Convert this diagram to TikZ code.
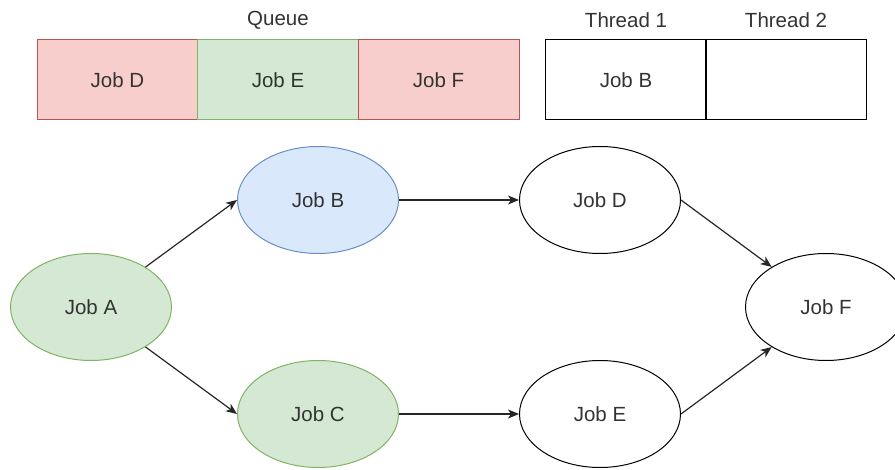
\documentclass[tikz,border=0pt]{standalone}
\usepackage{fontspec}
\setmainfont{Liberation Sans}
\usetikzlibrary{arrows.meta,shapes.geometric}

\definecolor{redfill}{HTML}{F8CECC}
\definecolor{redline}{HTML}{B85450}
\definecolor{greenfill}{HTML}{D5E8D4}
\definecolor{greenline}{HTML}{82B366}
\definecolor{bluefill}{HTML}{DAE8FC}
\definecolor{blueline}{HTML}{6C8EBF}
\definecolor{txt}{HTML}{333333}

\tikzset{
  every node/.style={font=\fontsize{20.5}{22}\selectfont, text=txt},
  slot/.style={rectangle, draw, line width=1pt, minimum width=161pt, minimum height=80pt, inner sep=0pt},
  jobnode/.style={ellipse, draw, line width=1pt, minimum width=161pt, minimum height=107pt, inner sep=0pt},
  red/.style={fill=redfill, draw=redline},
  green/.style={fill=greenfill, draw=greenline},
  blue/.style={fill=bluefill, draw=blueline},
  link/.style={draw=black!85, line width=1.2pt, -{Stealth[length=11pt,width=9pt,inset=3pt]}},
}

\begin{document}
\begin{tikzpicture}[x=1pt,y=-1pt]
  \useasboundingbox (0,0) rectangle (895,470);

  % queue of waiting jobs
  \node (queue) at (278,20) {Queue};
  \node[slot, red]   (qD) at (117.5,80) {Job D};
  \node[slot, green] (qE) at (278,80)   {Job E};
  \node[slot, red]   (qF) at (438.5,80) {Job F};

  % worker threads
  \node (t1label) at (626,20) {Thread 1};
  \node (t2label) at (786,20) {Thread 2};
  \node[slot] (t1) at (626,80) {Job B};
  \node[slot] (t2) at (786,80) {};

  % dependency graph
  \node[jobnode, green] (A) at (91,307)  {Job A};
  \node[jobnode, blue]  (B) at (318,200) {Job B};
  \node[jobnode, green] (C) at (318,414) {Job C};
  \node[jobnode]        (D) at (600,200) {Job D};
  \node[jobnode]        (E) at (600,414) {Job E};
  \node[jobnode]        (F) at (826,307) {Job F};

  \draw[link] (A) -- (B.west);
  \draw[link] (A) -- (C.west);
  \draw[link] (B.east) -- (D.west);
  \draw[link] (C.east) -- (E.west);
  \draw[link] (D.east) -- (F);
  \draw[link] (E.east) -- (F);
\end{tikzpicture}
\end{document}
